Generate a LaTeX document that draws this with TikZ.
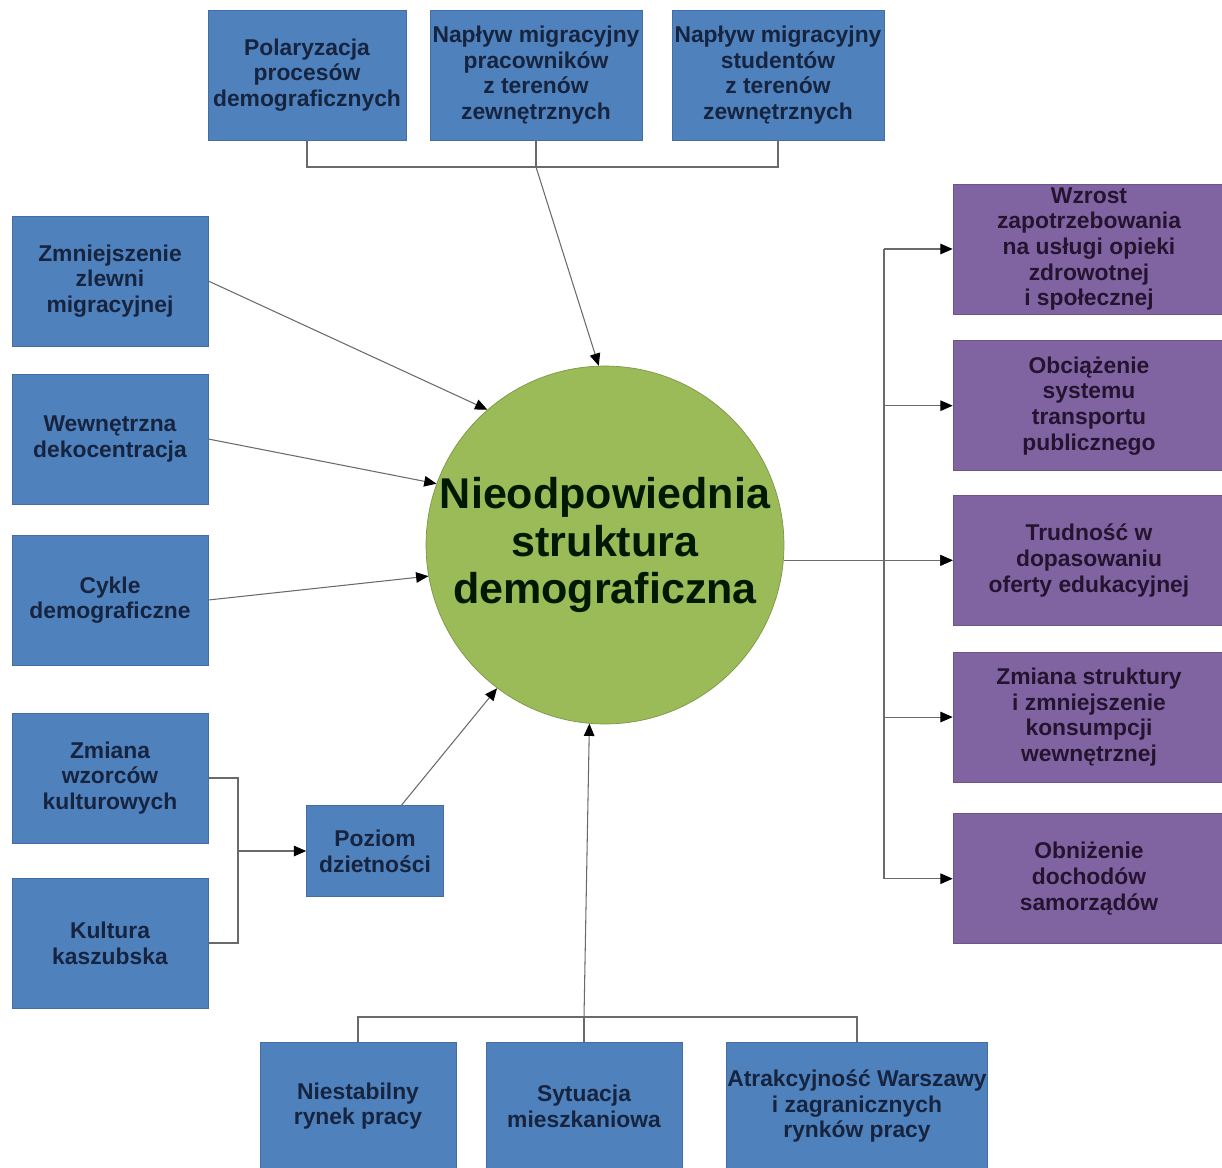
\documentclass[tikz,border=0pt]{standalone}
\usepackage{fontspec}
\setmainfont{Liberation Sans}
\usetikzlibrary{arrows.meta,positioning}
\definecolor{niebieski}{HTML}{4F81BD}
\definecolor{fiolet}{HTML}{8064A2}
\definecolor{zielony}{HTML}{9BBB59}
\definecolor{granat}{HTML}{16243F}
\definecolor{sliwka}{HTML}{24142F}
\definecolor{linia}{HTML}{6A6A6A}

\begin{document}
\begin{tikzpicture}[x=0.02cm, y=-0.02cm, >={Triangle[length=7pt,width=6pt,color=black]},
	   b/.style={draw=niebieski!85!black, fill=niebieski, text=granat, align=center, inner sep=0pt,
	     font=\fontsize{13}{14.6}\selectfont\bfseries, minimum width=3.92cm, minimum height=2.6cm},
	   p/.style={b, draw=fiolet!85!black, fill=fiolet, text=sliwka, minimum width=5.44cm},
	   l/.style={draw=linia, line width=0.6pt}]
	  \useasboundingbox (0,0) rectangle (1222,1167);
	  \clip (0,0) rectangle (1222,1167);
	  \node[draw=zielony!80!black, fill=zielony, circle, minimum size=7.16cm, inner sep=0pt, align=center,
	    font=\fontsize{24.5}{26.8}\selectfont\bfseries, text=black!90!green] (kolo) at (605,545) {Nieodpowiednia\\ struktura\\ demograficzna};
	  \node[b, minimum width=3.96cm] (g1) at (307,75) {Polaryzacja\\ procesów\\ demograficznych};
	  \node[b, minimum width=4.24cm] (g2) at (536,75) {Napływ migracyjny\\ pracowników\\ z terenów\\ zewnętrznych};
	  \node[b, minimum width=4.24cm] (g3) at (778,75) {Napływ migracyjny\\ studentów\\ z terenów\\ zewnętrznych};
	  \node[b] (z1) at (110,281) {Zmniejszenie\\ zlewni\\ migracyjnej};
	  \node[b] (z2) at (110,439) {Wewnętrzna\\ dekocentracja};
	  \node[b] (z3) at (110,600) {Cykle\\ demograficzne};
	  \node[b] (z4) at (110,778) {Zmiana\\ wzorców\\ kulturowych};
	  \node[b] (z5) at (110,943) {Kultura\\ kaszubska};
	  \node[b, minimum width=2.74cm, minimum height=1.82cm] (poz) at (375,851) {Poziom\\ dzietności};
	  \node[b, minimum height=2.56cm] (d1) at (358,1106) {Niestabilny\\ rynek pracy};
	  \node[b, minimum height=2.56cm] (d2) at (584,1106) {Sytuacja\\ mieszkaniowa};
	  \node[b, minimum height=2.56cm, minimum width=5.22cm] (d3) at (857,1106) {Atrakcyjność Warszawy\\ i zagranicznych\\ rynków pracy};
	  \node[p] (w1) at (1089,249) {Wzrost\\ zapotrzebowania\\ na usługi opieki\\ zdrowotnej\\ i społecznej};
	  \node[p, below=0.52cm of w1] (w2) {Obciążenie\\ systemu\\ transportu\\ publicznego};
	  \node[p, below=0.48cm of w2] (w3) {Trudność w\\ dopasowaniu\\ oferty edukacyjnej};
	  \node[p, below=0.52cm of w3] (w4) {Zmiana struktury\\ i zmniejszenie\\ konsumpcji\\ wewnętrznej};
	  \node[p, below=0.62cm of w4] (w5) {Obniżenie\\ dochodów\\ samorządów};
	  \coordinate (gora) at (536,167);
	  \coordinate (lew) at (238,851);
	  \coordinate (dol) at (584,1017);
	  \coordinate (pion) at (884,545);
	  \draw[l] (g1.south) |- (gora) -| (g3.south);
	  \draw[l] (g2.south) -- (gora);
	  \draw[l,->] (gora) -- (kolo.92);
	  \draw[l,->] (z1.east) -- (kolo.131);
	  \draw[l,->] (z2.east) -- (kolo.160);
	  \draw[l,->] (z3.east) -- (kolo.190);
	  \draw[l] (z4.east) -| (lew) |- (z5.east);
	  \draw[l,->] (lew) -- (poz.west);
	  \draw[l,->] (poz.60) -- (kolo.233);
	  \draw[l] (d1.north) |- (dol) -| (d3.north);
	  \draw[l] (d2.north) -- (dol);
	  \draw[l,->] (dol) -- (kolo.265);
	  \draw[l,->] (kolo.east |- w3.west) -- (w3.west);
	  \draw[l] (pion |- w1.west) -- (pion |- w5.west);
	  \foreach \w in {w1,w2,w3,w4,w5}
	    \draw[l,->] (pion |- \w.west) -- (\w.west);
	\end{tikzpicture}
\end{document}
